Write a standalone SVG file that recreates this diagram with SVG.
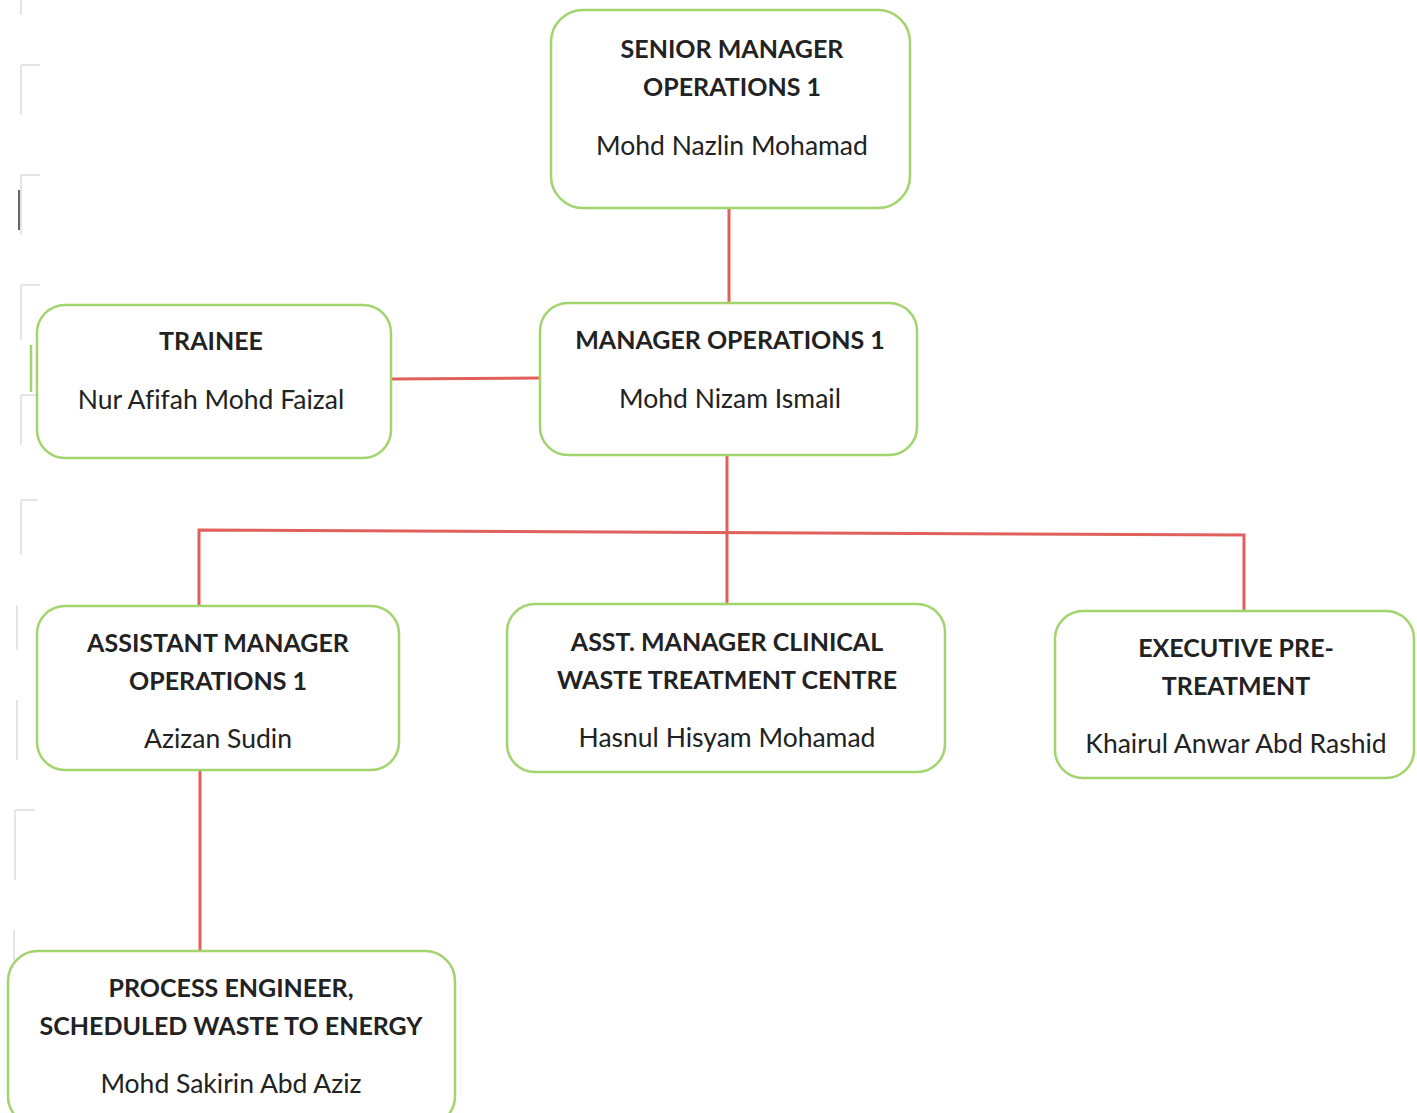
<svg xmlns="http://www.w3.org/2000/svg" width="1417" height="1113" viewBox="0 0 1417 1113">
<style>
.box{fill:#fff;stroke:#a2d46e;stroke-width:2.5}
.t{font-family:Lato,"Open Sans","Liberation Sans",sans-serif;font-size:26.5px;fill:#222;text-anchor:middle;font-variant-ligatures:none}
.b{font-weight:bold;font-size:25px}
.c{fill:none;stroke:#e0605c;stroke-width:3}
.a{fill:none;stroke:#ddd;stroke-width:1.5}
</style>
<rect width="1417" height="1113" fill="#fff"/>
<g id="artifacts">
<path class="a" d="M21 0V15M21 65H40M21 65V115M21 175H40M21 175V235M21 285H40M21 285V340M21 395H40M21 395V445M21 500H38M21 500V555M17 605V650M17 700V760M15 810H35M15 810V880M14 930V1000M14 1050V1100"/>
<path d="M19 190V230" stroke="#666" stroke-width="2"/>
<path d="M31 345V392" stroke="#a2d46e" stroke-width="2.5"/>
</g>
<g id="connectors">
<path class="c" d="M729 208V303"/>
<path class="c" d="M391 379L540 378"/>
<path class="c" d="M727 455V605"/>
<path class="c" d="M199 606V530L1244 535V611"/>
<path class="c" d="M200 770V951"/>
</g>
<g id="senior">
<rect class="box" x="551" y="10" width="359" height="198" rx="32"/>
<text class="t b" x="732" y="58">SENIOR MANAGER</text>
<text class="t b" x="732" y="96">OPERATIONS 1</text>
<text class="t" x="732" y="155">Mohd Nazlin Mohamad</text>
</g>
<g id="manager">
<rect class="box" x="540" y="303" width="377" height="152" rx="28"/>
<text class="t b" x="730" y="349">MANAGER OPERATIONS 1</text>
<text class="t" x="730" y="408">Mohd Nizam Ismail</text>
</g>
<g id="trainee">
<rect class="box" x="37" y="305" width="354" height="153" rx="28"/>
<text class="t b" x="211" y="350">TRAINEE</text>
<text class="t" x="211" y="409">Nur Afifah Mohd Faizal</text>
</g>
<g id="asst-ops">
<rect class="box" x="37" y="606" width="362" height="164" rx="28"/>
<text class="t b" x="218" y="652">ASSISTANT MANAGER</text>
<text class="t b" x="218" y="690">OPERATIONS 1</text>
<text class="t" x="218" y="748">Azizan Sudin</text>
</g>
<g id="asst-clinical">
<rect class="box" x="507" y="604" width="438" height="168" rx="28"/>
<text class="t b" x="727" y="651">ASST. MANAGER CLINICAL</text>
<text class="t b" x="727" y="689">WASTE TREATMENT CENTRE</text>
<text class="t" x="727" y="747">Hasnul Hisyam Mohamad</text>
</g>
<g id="executive">
<rect class="box" x="1055" y="611" width="359" height="167" rx="28"/>
<text class="t b" x="1236" y="657">EXECUTIVE PRE-</text>
<text class="t b" x="1236" y="695">TREATMENT</text>
<text class="t" x="1236" y="753">Khairul Anwar Abd Rashid</text>
</g>
<g id="process">
<rect class="box" x="8" y="951" width="447" height="175" rx="30"/>
<text class="t b" x="231" y="997">PROCESS ENGINEER,</text>
<text class="t b" x="231" y="1035">SCHEDULED WASTE TO ENERGY</text>
<text class="t" x="231" y="1093">Mohd Sakirin Abd Aziz</text>
</g>
</svg>
